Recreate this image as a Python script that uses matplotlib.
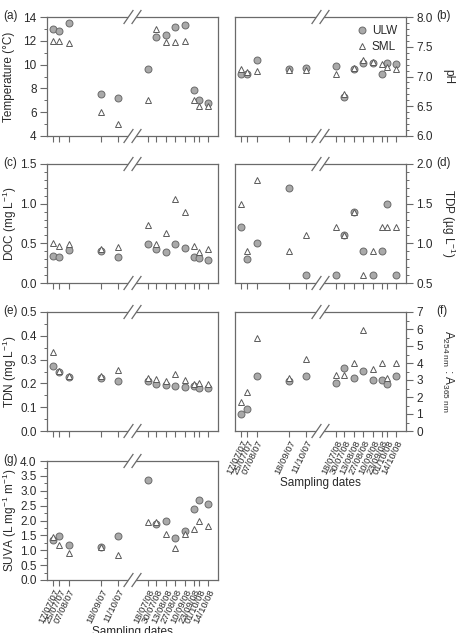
import matplotlib
matplotlib.use('Agg')
import matplotlib.pyplot as plt
import matplotlib.dates as mdates
from matplotlib.lines import Line2D
from matplotlib.patches import Polygon
from matplotlib.ticker import MultipleLocator, FormatStrFormatter
from datetime import datetime

plt.rcParams['font.family'] = ['Liberation Sans', 'DejaVu Sans']
plt.rcParams['mathtext.fontset'] = 'custom'
plt.rcParams['mathtext.rm'] = 'Liberation Sans'
plt.rcParams['mathtext.it'] = 'Liberation Sans:italic'

# sampling dates (two field seasons, axis is broken between them)
dates = ['17/07/07', '25/07/07', '07/08/07', '18/09/07', '11/10/07',
         '18/07/08', '30/07/08', '13/08/08', '27/08/08', '10/09/08',
         '23/09/08', '01/10/08', '14/10/08']

# ULW = underlying water, SML = surface microlayer
temp_ulw = [13.0, 12.8, 13.5, 7.5, 7.2, 9.6, 12.3, 12.5, 13.2, 13.3, 7.9, 7.0, 6.8]
temp_sml = [12.0, 12.0, 11.8, 6.0, 5.0, 7.0, 13.0, 11.9, 11.9, 12.0, 7.0, 6.5, 6.5]

ph_ulw = [7.05, 7.05, 7.28, 7.13, 7.14, 7.18, 6.65, 7.12, 7.23, 7.23, 7.04, 7.22, 7.21]
ph_sml = [7.12, 7.07, 7.10, 7.11, 7.11, 7.05, 6.70, 7.15, 7.28, 7.25, 7.21, 7.16, 7.13]

doc_ulw = [0.34, 0.33, 0.42, 0.40, 0.33, 0.49, 0.43, 0.39, 0.49, 0.44, 0.33, 0.31, 0.29]
doc_sml = [0.50, 0.47, 0.49, 0.43, 0.46, 0.73, 0.49, 0.63, 1.06, 0.89, 0.47, 0.39, 0.43]

tdp_ulw = [1.2, 0.8, 1.0, 1.7, 0.6, 0.6, 1.1, 1.4, 0.9, 0.6, 0.9, 1.5, 0.6]
tdp_sml = [1.5, 0.9, 1.8, 0.9, 1.1, 1.2, 1.1, 1.4, 0.6, 0.9, 1.2, 1.2, 1.2]

tdn_ulw = [0.275, 0.248, 0.226, 0.222, 0.212, 0.212, 0.196, 0.194, 0.187, 0.185, 0.188, 0.182, 0.181]
tdn_sml = [0.331, 0.254, 0.230, 0.233, 0.258, 0.223, 0.219, 0.209, 0.241, 0.216, 0.198, 0.200, 0.196]

ratio_ulw = [1.0, 1.3, 3.25, 2.93, 3.25, 2.85, 3.72, 3.09, 3.54, 2.99, 2.99, 2.76, 3.23]
ratio_sml = [1.73, 2.32, 5.49, 3.09, 4.23, 3.29, 3.31, 4.0, 5.96, 3.62, 4.0, 3.11, 3.98]

suva_ulw = [1.34, 1.49, 1.19, 1.11, 1.48, 3.36, 1.87, 2.0, 1.42, 1.64, 2.40, 2.69, 2.55]
suva_sml = [1.46, 1.18, 0.90, 1.10, 0.84, 1.95, 1.96, 1.55, 1.09, 1.53, 1.73, 1.98, 1.80]

dts = [datetime.strptime(d, '%d/%m/%y') for d in dates]
seg1 = (datetime(2007, 7, 9), datetime(2007, 10, 30))
seg2 = (datetime(2008, 6, 25), datetime(2008, 10, 29))

W, H = 457, 633
fig = plt.figure(figsize=(W / 100, H / 100), dpi=100)

TXT = '#2a2a2a'
AX = '#6a6a6a'
FS = 8.5


def rect(x0, y0, w, h):
    return [x0 / W, 1 - (y0 + h) / H, w / W, h / H]


def slash(xc, yc):
    # the "//" break mark drawn over a spine (pixel coords)
    dx, dy, sep = 4.5, 6.5, 8.0
    pts = []
    for off in (-sep / 2, sep / 2):
        x = [(xc + off - dx) / W, (xc + off + dx) / W]
        y = [1 - (yc + dy) / H, 1 - (yc - dy) / H]
        pts.append((x, y))
    (xa, ya), (xb, yb) = pts
    fig.add_artist(Polygon([(xa[0], ya[0]), (xb[0], yb[0]), (xb[1], yb[1]), (xa[1], ya[1])],
                           closed=True, fc='white', ec='none', transform=fig.transFigure, zorder=10))
    for x, y in pts:
        fig.add_artist(Line2D(x, y, color=AX, lw=0.9, transform=fig.transFigure, zorder=11))


def panel(col, row, ulw, sml, ylim, major, minor, ylabel, tag, xlab=False, legend=False, fmt='%.1f'):
    x0 = 47 if col == 0 else 235
    top = [17, 164, 312, 461][row]
    h = 119
    half = 85.5
    axL = fig.add_axes(rect(x0, top, half, h))
    axR = fig.add_axes(rect(x0 + half, top, half, h))
    for ax, lim in ((axL, seg1), (axR, seg2)):
        l1, = ax.plot(dts, ulw, 'o', ms=5, mfc='#a9a9a9', mec='#6a6a6a', mew=0.7, ls='none', label='ULW')
        l2, = ax.plot(dts, sml, '^', ms=5, mfc='white', mec='#5a5a5a', mew=0.7, ls='none', label='SML')
        ax.set_xlim(lim)
        ax.set_ylim(ylim)
        ax.set_xticks([d for d in dts if lim[0] <= d <= lim[1]])
        ax.xaxis.set_major_formatter(mdates.DateFormatter('%d/%m/%y'))
        ax.yaxis.set_major_locator(MultipleLocator(major))
        ax.yaxis.set_minor_locator(MultipleLocator(minor))
        ax.yaxis.set_major_formatter(FormatStrFormatter(fmt))
        for s in ax.spines.values():
            s.set_color(AX)
            s.set_linewidth(0.9)
        ax.tick_params(axis='x', which='both', direction='out', length=4, width=0.8, color=AX,
                       labelsize=6.8, labelcolor=TXT, top=False, labelbottom=xlab, pad=1.5)
        ax.tick_params(axis='y', which='major', direction='out', length=5, width=0.8, color=AX,
                       labelsize=FS, labelcolor=TXT, pad=2.5)
        ax.tick_params(axis='y', which='minor', direction='out', length=2.5, width=0.7, color=AX)
        if xlab:
            for t in ax.get_xticklabels():
                t.set_rotation(64)
                t.set_ha('right')
                t.set_va('top')
                t.set_rotation_mode('anchor')
    axL.spines['right'].set_visible(False)
    axR.spines['left'].set_visible(False)
    if col == 0:
        axR.tick_params(axis='y', which='both', left=False, right=False, labelleft=False)
        axL.tick_params(axis='y', which='both', right=False)
        fig.text(9.5 / W, 1 - (top + h / 2) / H, ylabel, rotation=90, ha='center', va='center',
                 fontsize=FS, color=TXT)
        fig.text(3 / W, 1 - (top - 1) / H, tag, ha='left', va='center', fontsize=FS, color=TXT)
    else:
        axL.tick_params(axis='y', which='both', left=False, right=False, labelleft=False)
        axR.yaxis.tick_right()
        axR.tick_params(axis='y', which='both', left=False)
        fig.text(448 / W, 1 - (top + h / 2) / H, ylabel, rotation=270, ha='center', va='center',
                 fontsize=FS, color=TXT)
        fig.text(436 / W, 1 - (top - 1) / H, tag, ha='left', va='center', fontsize=FS, color=TXT)
    if xlab:
        fig.text((x0 + half) / W, 1 - (top + h + 52) / H, 'Sampling dates', ha='center', va='center',
                 fontsize=FS, color=TXT)
    if legend:
        axR.legend(handles=[l1, l2], loc='upper right', frameon=False, fontsize=FS,
                   handletextpad=0.1, borderaxespad=0.3, labelspacing=0.35, handlelength=1.5,
                   labelcolor=TXT, bbox_to_anchor=(0.99, 1.0))
    slash(x0 + half, top)
    slash(x0 + half, top + h)


panel(0, 0, temp_ulw, temp_sml, (4, 14), 2, 1, 'Temperature (°C)', '(a)', fmt='%d')
panel(1, 0, ph_ulw, ph_sml, (6.0, 8.0), 0.5, 0.1, 'pH', '(b)', legend=True)
panel(0, 1, doc_ulw, doc_sml, (0.0, 1.5), 0.5, 0.1, 'DOC (mg L$^{-1}$)', '(c)')
panel(1, 1, tdp_ulw, tdp_sml, (0.5, 2.0), 0.5, 0.1, 'TDP (µg L$^{-1}$)', '(d)')
panel(0, 2, tdn_ulw, tdn_sml, (0.0, 0.5), 0.1, 0.05, 'TDN (mg L$^{-1}$)', '(e)')
panel(1, 2, ratio_ulw, ratio_sml, (0, 7), 1, 0.5,
      'A$_{\\mathregular{254\\ nm}}$ : A$_{\\mathregular{365\\ nm}}$', '(f)', xlab=True, fmt='%d')
panel(0, 3, suva_ulw, suva_sml, (0.0, 4.0), 0.5, 0.25, 'SUVA (L mg$^{-1}$ m$^{-1}$)', '(g)', xlab=True)

fig.savefig('out.png', dpi=100)
